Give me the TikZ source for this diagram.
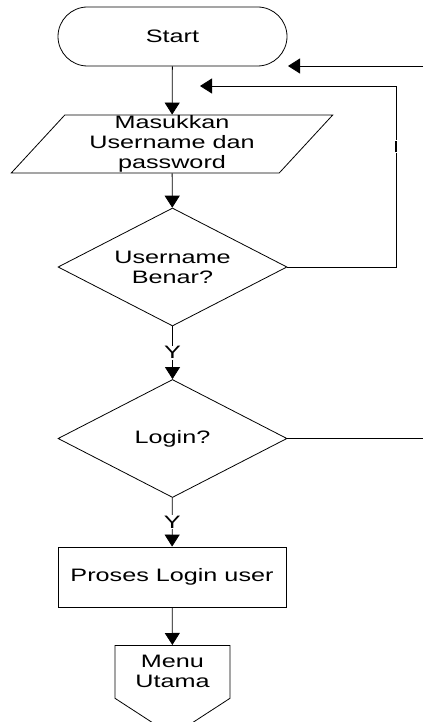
\documentclass[tikz,border=0pt]{standalone}
\usepackage{fontspec}
\setmainfont[FakeStretch=1.4]{Liberation Sans}
\usetikzlibrary{calc,positioning,shapes.geometric,shapes.misc,shapes.symbols,arrows.meta}
\tikzset{
	flow/.style={draw, line width=0.8pt, font=\fontsize{18}{20}\selectfont, align=center, inner sep=0pt},
	terminal/.style={flow, rounded rectangle, minimum width=229pt, minimum height=59pt},
	io/.style={flow, trapezium, trapezium left angle=54, trapezium right angle=126, trapezium stretches=true, minimum width=322pt, minimum height=58pt},
	decision/.style={flow, diamond, aspect=1.94, minimum width=229pt, minimum height=118pt},
	process/.style={flow, rectangle, minimum width=228pt, minimum height=60pt},
	offpage/.style={flow, signal, signal to=south, signal from=nowhere, signal pointer angle=114, minimum width=115pt, minimum height=77pt},
	arr/.style={line width=0.8pt, -{Triangle[width=15pt,length=12pt]}},
	garis/.style={line width=0.8pt},
	lbl/.style={fill=white, inner sep=1pt, font=\fontsize{18}{20}\selectfont}
}
\begin{document}
\begin{tikzpicture}[x=1pt,y=-1pt]
	\useasboundingbox (0,0) rectangle (423,722);
	\node[terminal] (start) at (172.5,36.5) {Start};
	\node[io] (input) at (172,144) {Masukkan\\Username dan\\password};
	\node[decision] (cekuser) at (172.5,267) {Username\\Benar?};
	\node[decision] (login) at (172.5,438.5) {Login?};
	\node[process] (proses) at (172,577) {Proses Login user};
	\node[offpage, anchor=north] (menu) at (172.5,645) {Menu\\Utama};
	\coordinate (sudut) at (396,86);
	\coordinate (balik) at (200,86);
	\coordinate (kanan1) at (423,66);
	\coordinate (ujung1) at (288,66);
	\coordinate (kanan2) at (423,438.5);
	\draw[arr] (start) -- (input);
	\draw[arr] (input) -- (cekuser);
	\draw[arr] (cekuser) -- node[lbl]{Y} (login);
	\draw[arr] (login) -- node[lbl]{Y} (proses);
	\draw[arr] (proses) -- (menu);
	\draw[arr] (cekuser.east) -| (sudut) -- (balik);
	\draw[arr] (kanan1) -- (ujung1);
	\draw[garis] (login.east) -- (kanan2);
	\node[fill=white, inner sep=1pt] (tanda) at (396,147) {\rule{2pt}{11pt}};%cut label
\end{tikzpicture}
\end{document}
